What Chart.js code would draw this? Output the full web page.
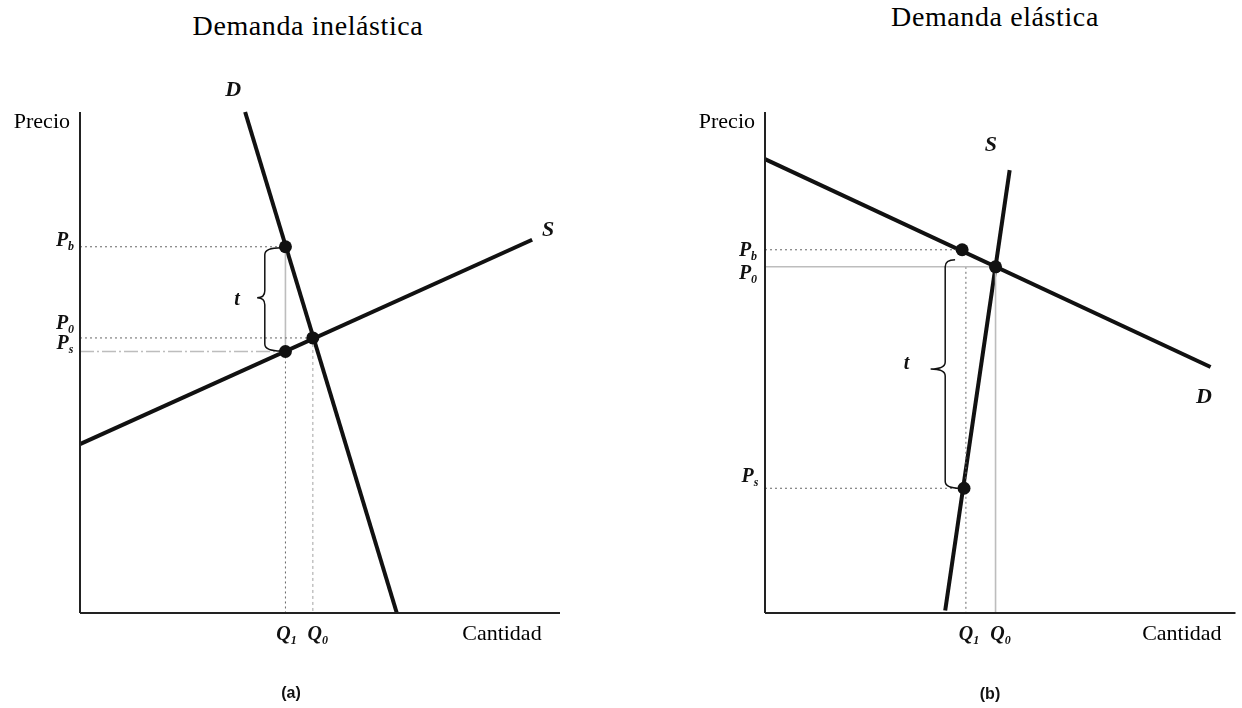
<!DOCTYPE html>
<html>
<head>
<meta charset="utf-8">
<script src="https://cdn.jsdelivr.net/npm/chart.js@4.4.0/dist/chart.umd.min.js"></script>
<style>
  body { margin: 0; background: #fff; width: 1242px; height: 708px; overflow: hidden; position: relative; font-family: "Liberation Serif", serif; }
  .panel { position: absolute; top: 0; width: 621px; height: 708px; }
  .title { position: absolute; font-size: 28px; line-height: 28px; color: #000; white-space: nowrap; transform: translateX(-50%); letter-spacing: 0.6px; }
  .tag { position: absolute; font-family: "Liberation Sans", sans-serif; font-weight: bold; font-size: 16px; line-height: 16px; color: #111; transform: translateX(-50%); }
</style>
</head>
<body>
<div class="title" style="left:308px; top:12px">Demanda inelástica</div>
<div class="title" style="left:995px; top:3px">Demanda elástica</div>
<div class="panel" style="left:0"><canvas id="chartA" width="621" height="708"></canvas></div>
<div class="panel" style="left:621px"><canvas id="chartB" width="621" height="708"></canvas></div>
<div class="tag" style="left:291px; top:685px">(a)</div>
<div class="tag" style="left:990px; top:686px">(b)</div>

<script>
// --- (a) demanda inelástica: unidades 0..10 en ambos ejes ---
const demandA = [{ x: 3.44, y: 10 }, { x: 6.6, y: 0 }];
const supplyA = [{ x: 0, y: 3.37 }, { x: 9.42, y: 7.45 }];
const pointPbA = { x: 4.28, y: 7.31 };
const pointP0A = { x: 4.85, y: 5.49 };
const pointPsA = { x: 4.28, y: 5.22 };

// --- (b) demanda elástica ---
const demandB = [{ x: 0, y: 9.06 }, { x: 9.47, y: 4.91 }];
const supplyB = [{ x: 5.2, y: 8.84 }, { x: 3.83, y: 0.05 }];
const pointPbB = { x: 4.19, y: 7.25 };
const pointP0B = { x: 4.9, y: 6.91 };
const pointPsB = { x: 4.23, y: 2.49 };
const q1B = 4.27;

const INK = '#111';
const DOT = '#666';
const LIGHT = '#bdbdbd';

function seg(a, b, color, width, dash) {
    return {
        data: [a, b], showLine: true, borderColor: color, borderWidth: width,
        borderDash: dash || [], pointRadius: 0, clip: false, order: 2
    };
}

function dots(list) {
    return {
        data: list, showLine: false, pointRadius: 6.5, pointBackgroundColor: INK,
        pointBorderColor: INK, pointBorderWidth: 0, clip: false, order: 0
    };
}

function axes() {
    return [
        seg({ x: 0, y: 0 }, { x: 10, y: 0 }, '#222', 2),
        seg({ x: 0, y: 0 }, { x: 0, y: 10 }, '#222', 2)
    ];
}

// texto con subíndice (P_b, Q_1 ...)
function subLabel(ctx, main, sub, cx, base, size) {
    const mainFont = 'italic bold ' + size + 'px "Liberation Serif"';
    const subSize = Math.round(size * 0.6);
    const subFont = 'italic bold ' + subSize + 'px "Liberation Serif"';
    ctx.font = mainFont;
    const w1 = ctx.measureText(main).width;
    ctx.font = subFont;
    const w2 = sub ? ctx.measureText(sub).width : 0;
    const x0 = cx - (w1 + w2) / 2;
    ctx.textAlign = 'left';
    ctx.textBaseline = 'alphabetic';
    ctx.font = mainFont;
    ctx.fillText(main, x0, base);
    if (sub) {
        ctx.font = subFont;
        ctx.fillText(sub, x0 + w1, base + 4);
    }
}

function brace(ctx, spineX, tipX, top, mid, bottom, hookTop, hookBottom) {
    const r = 7;
    ctx.beginPath();
    ctx.moveTo(hookTop, top);
    ctx.quadraticCurveTo(spineX, top, spineX, top + r);
    ctx.lineTo(spineX, mid - r);
    ctx.quadraticCurveTo(spineX, mid, tipX, mid);
    ctx.quadraticCurveTo(spineX, mid, spineX, mid + r);
    ctx.lineTo(spineX, bottom - r);
    ctx.quadraticCurveTo(spineX, bottom, hookBottom, bottom);
    ctx.strokeStyle = INK;
    ctx.lineWidth = 1.5;
    ctx.stroke();
}

// dibuja etiquetas y llave a partir de las escalas
function extrasPlugin(cfg) {
    return {
        id: 'extras',
        afterDatasetsDraw(chart) {
            const ctx = chart.ctx;
            const X = v => chart.scales.x.getPixelForValue(v);
            const Y = v => chart.scales.y.getPixelForValue(v);
            ctx.save();
            ctx.fillStyle = INK;
            const b = cfg.brace;
            brace(ctx, X(b.spine), X(b.tip), Y(b.top), Y(b.mid), Y(b.bottom), X(b.hookTop), X(b.hookBottom));

            cfg.subs.forEach(l => {
                subLabel(ctx, l.t, l.s, X(l.x) + (l.dx || 0), Y(l.y) + (l.dy || 0), l.size || 20);
            });

            ctx.fillStyle = '#000';
            ctx.font = '22px "Liberation Serif"';
            ctx.textBaseline = 'alphabetic';
            ctx.textAlign = 'right';
            ctx.fillText('Precio', X(0) - 10, Y(10) + 16);
            ctx.textAlign = 'center';
            ctx.fillText('Cantidad', X(cfg.cantidadX), Y(0) + 27);
            ctx.restore();
        }
    };
}

function makeChart(id, datasets, padding, extras) {
    return new Chart(document.getElementById(id), {
        type: 'scatter',
        data: { datasets: datasets },
        options: {
            responsive: false,
            animation: false,
            events: [],
            layout: { padding: padding },
            plugins: { legend: { display: false }, tooltip: { enabled: false } },
            scales: {
                x: { type: 'linear', min: 0, max: 10, display: false },
                y: { type: 'linear', min: 0, max: 10, display: false }
            }
        },
        plugins: [extrasPlugin(extras)]
    });
}

// ---------- (a) ----------
makeChart('chartA', [
    ...axes(),
    seg({ x: 0, y: pointPbA.y }, pointPbA, DOT, 1, [2, 3]),
    seg({ x: 0, y: pointP0A.y }, pointP0A, DOT, 1, [2, 3]),
    seg({ x: 0, y: pointPsA.y }, pointPsA, LIGHT, 1.6, [14, 3, 2, 3]),
    seg(pointPsA, { x: pointPsA.x, y: 0 }, DOT, 1, [2, 3]),
    seg(pointP0A, { x: pointP0A.x, y: 0 }, LIGHT, 1.4, [3, 3]),
    seg(pointPbA, pointPsA, LIGHT, 1.6),
    seg(demandA[0], demandA[1], INK, 4),
    seg(supplyA[0], supplyA[1], INK, 4),
    dots([pointPbA, pointP0A, pointPsA])
], { left: 80, right: 61, top: 112, bottom: 95 }, {
    brace: { spine: 3.85, tip: 3.69, top: 7.29, mid: 6.29, bottom: 5.23, hookTop: 4.19, hookBottom: 4.19 },
    cantidadX: 8.79,
    subs: [
        { t: 'P', s: 'b', x: 0, y: pointPbA.y, dx: -15, dy: -1 },
        { t: 'P', s: '0', x: 0, y: pointP0A.y, dx: -15, dy: -9 },
        { t: 'P', s: 's', x: 0, y: pointPsA.y, dx: -15, dy: -2 },
        { t: 'Q', s: '1', x: pointPsA.x, y: 0, dx: 1, dy: 27 },
        { t: 'Q', s: '0', x: pointP0A.x, y: 0, dx: 5, dy: 27 },
        { t: 'D', s: '', x: 3.19, y: 10.48, dy: 8, size: 22 },
        { t: 'S', s: '', x: 9.75, y: 7.68, dy: 8, size: 22 },
        { t: 't', s: '', x: 3.27, y: 6.29, dy: 7, size: 20 }
    ]
});

// ---------- (b) ----------
makeChart('chartB', [
    ...axes(),
    seg({ x: 0, y: pointPbB.y }, pointPbB, DOT, 1, [2, 3]),
    seg({ x: 0, y: pointP0B.y }, pointP0B, LIGHT, 1.6),
    seg({ x: 0, y: pointPsB.y }, pointPsB, DOT, 1, [2, 3]),
    seg({ x: q1B, y: pointP0B.y }, { x: q1B, y: 0 }, DOT, 1, [2, 3]),
    seg(pointP0B, { x: pointP0B.x, y: 0 }, LIGHT, 1.6),
    seg(demandB[0], demandB[1], INK, 4),
    seg(supplyB[0], supplyB[1], INK, 4),
    dots([pointPbB, pointP0B, pointPsB])
], { left: 144, right: 2, top: 112, bottom: 95 }, {
    brace: { spine: 3.83, tip: 3.52, top: 7.05, mid: 4.87, bottom: 2.49, hookTop: 4.04, hookBottom: 4.15 },
    cantidadX: 8.86,
    subs: [
        { t: 'P', s: 'b', x: 0, y: pointPbB.y, dx: -17, dy: 6 },
        { t: 'P', s: '0', x: 0, y: pointP0B.y, dx: -17, dy: 12 },
        { t: 'P', s: 's', x: 0, y: pointPsB.y, dx: -15, dy: -6 },
        { t: 'Q', s: '1', x: q1B, y: 0, dx: 3, dy: 27 },
        { t: 'Q', s: '0', x: pointP0B.x, y: 0, dx: 5, dy: 27 },
        { t: 'S', s: '', x: 4.8, y: 9.38, dy: 8, size: 22 },
        { t: 'D', s: '', x: 9.33, y: 4.35, dy: 8, size: 22 },
        { t: 't', s: '', x: 3.01, y: 5.01, dy: 7, size: 20 }
    ]
});
</script>
</body>
</html>
